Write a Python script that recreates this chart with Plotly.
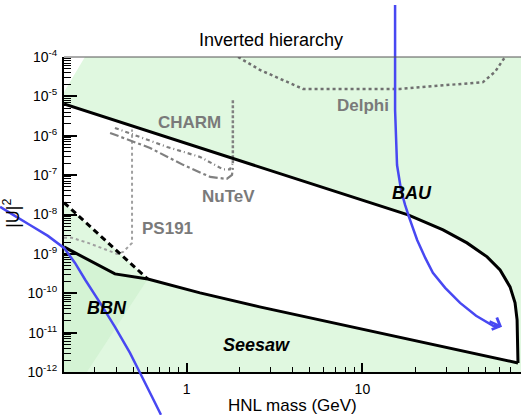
import numpy as np
import plotly.graph_objects as go

# ---------------- data (HNL mass in GeV, |U|^2) ----------------
bau_mass = [0.2, 1.0, 10.0, 18.2, 28.8, 39.4, 51.3, 60.8, 69.3, 74.0, 76.0, 76.9]
bau_u2 = [6.4e-6, 6.3e-7, 2.3e-8, 9.8e-9, 4.06e-9, 1.9e-9, 8.4e-10, 3.9e-10, 1.45e-10, 5.7e-11, 2.1e-11, 1.7e-12]

seesaw_mass = [0.2, 0.39, 0.6, 1.19, 2.6, 9.7, 76.9]
seesaw_u2 = [1.5e-9, 3.1e-10, 2.3e-10, 1.02e-10, 4.5e-11, 1.25e-11, 1.7e-12]

bbn_dash_mass = [0.2, 0.6]
bbn_dash_u2 = [2.0e-8, 2.3e-10]

bbn_dark_mass = [0.2, 0.27, 0.6, 0.39, 0.2]
bbn_dark_u2 = [1e-12, 1e-12, 2.3e-10, 3.1e-10, 1.5e-9]

wedge_mass = [0.2, 0.263, 0.2]
wedge_u2 = [1e-4, 1e-4, 1.3e-5]

ps191_mass = [0.2, 0.222, 0.274, 0.342, 0.401, 0.434, 0.488, 0.488]
ps191_u2 = [2.55e-9, 2.55e-9, 1.9e-9, 1.34e-9, 1.0e-9, 1.12e-9, 1.9e-9, 1.45e-6]

charm_mass = [0.39, 0.773, 1.19, 1.61, 1.76, 1.83]
charm_u2 = [1.58e-6, 5.2e-7, 2.9e-7, 1.4e-7, 1.4e-7, 2.0e-7]
charm_vert_mass = [1.83, 1.83]
charm_vert_u2 = [2.0e-7, 8.1e-6]

nutev_mass = [0.366, 0.618, 0.953, 1.36, 1.69, 1.81, 1.83]
nutev_u2 = [1.18e-6, 4.9e-7, 1.82e-7, 9.0e-8, 8.0e-8, 1.01e-7, 1.52e-7]

delphi_mass = [1.96, 2.61, 4.59, 16.4, 48.6, 56.9, 64.9]
delphi_u2 = [1e-4, 4.7e-5, 1.55e-5, 1.55e-5, 2.3e-5, 4.2e-5, 1e-4]

blue_left_mass = [0.0865, 0.105, 0.128, 0.162, 0.2, 0.231, 0.264, 0.321, 0.39, 0.475, 0.556, 0.634, 0.713]
blue_left_u2 = [1.56e-8, 9.2e-9, 5.4e-9, 2.86e-9, 1.42e-9, 5.9e-10, 2.2e-10, 5.7e-11, 1.4e-11, 3.07e-12, 7.6e-13, 2.35e-13, 8.2e-14]

blue_right_mass = [15.35, 15.35, 15.35, 15.75, 16.6, 17.5, 18.5, 20.5, 22.8, 25.2, 29.6, 36.0, 44.4, 55.5, 60.5]
blue_right_u2 = [2.1e-3, 1e-4, 4.5e-6, 1.8e-7, 4.2e-8, 1.75e-8, 8.2e-9, 2.26e-9, 7.9e-10, 3.3e-10, 1.37e-10, 5.7e-11, 2.67e-11, 1.49e-11, 1.42e-11]
arrow_tip = (62.4, 1.4e-11)

labels = [
    ("CHARM", 1.04, 2.2e-6, "gray"),
    ("NuTeV", 1.72, 2.8e-8, "gray"),
    ("PS191", 0.773, 4.3e-9, "gray"),
    ("Delphi", 10.1, 5.7e-6, "gray"),
    ("BAU", 19.2, 3.5e-8, "black"),
    ("BBN", 0.352, 4.3e-11, "black"),
    ("Seesaw", 2.48, 4.9e-12, "black"),
]

x_tickvals = [1, 10]
x_ticktext = ["1", "10"]
y_exponents = [-12, -11, -10, -9, -8, -7, -6, -5, -4]

XRANGE = [np.log10(0.2), np.log10(80)]
YRANGE = [-12, -4]

GREEN = "#e0f8e0"
GREEN_DARK = "#d4f3d4"
GRAY = "#7a7a7a"
BLUE = "#4848f2"
FONT = "Liberation Sans, Arial, sans-serif"

fig = go.Figure()


def add_fill(xs, ys, color):
    fig.add_trace(go.Scatter(x=xs, y=ys, mode="lines", fill="toself", fillcolor=color,
                             line=dict(width=0, color=color), hoverinfo="skip", showlegend=False))


def add_line(xs, ys, color, width, dash="solid"):
    fig.add_trace(go.Scatter(x=xs, y=ys, mode="lines", line=dict(color=color, width=width, dash=dash),
                             hoverinfo="skip", showlegend=False))


# allowed (white) region
allowed_x = bau_mass + seesaw_mass[::-1][1:5] + [bbn_dash_mass[0]]
allowed_y = bau_u2 + seesaw_u2[::-1][1:5] + [bbn_dash_u2[0]]
add_fill(allowed_x, allowed_y, "white")
add_fill(wedge_mass, wedge_u2, "white")
add_fill(bbn_dark_mass, bbn_dark_u2, GREEN_DARK)

# experimental contours
add_line(delphi_mass, delphi_u2, "#707070", 2.5, "dot")
add_line(ps191_mass, ps191_u2, "#a0a0a0", 2, "dot")
add_line(charm_mass, charm_u2, "#808080", 2.2, "4px,3px,1px,3px")
add_line(nutev_mass, nutev_u2, "#808080", 2.2, "dashdot")
add_line(charm_vert_mass, charm_vert_u2, "#808080", 2.5, "3px,2px")

# theory lines
add_line(bbn_dash_mass, bbn_dash_u2, "black", 3, "6px,4px")
add_line(seesaw_mass, seesaw_u2, "black", 3)
add_line(bau_mass, bau_u2, "black", 3)


def to_paper(m, u):
    px = (np.log10(m) - XRANGE[0]) / (XRANGE[1] - XRANGE[0])
    py = (np.log10(u) - YRANGE[0]) / (YRANGE[1] - YRANGE[0])
    return px, py


def blue_path(ms, us):
    pts = [to_paper(m, u) for m, u in zip(ms, us)]
    return "M " + " L ".join(f"{x:.5f},{y:.5f}" for x, y in pts)


shapes = [
    dict(type="path", xref="paper", yref="paper", path=blue_path(blue_left_mass, blue_left_u2),
         line=dict(color=BLUE, width=2.5), layer="above"),
    dict(type="path", xref="paper", yref="paper", path=blue_path(blue_right_mass, blue_right_u2),
         line=dict(color=BLUE, width=2.5), layer="above"),
    dict(type="line", xref="paper", yref="paper", x0=0, x1=1, y0=1, y1=1,
         line=dict(color="#555555", width=1)),
]

annotations = []
for text, m, u, col in labels:
    if col == "gray":
        t = f"<b>{text}</b>"
        c = GRAY
        size = 17
    else:
        t = f"<b><i>{text}</i></b>"
        c = "black"
        size = 18
    annotations.append(dict(x=np.log10(m), y=np.log10(u), xref="x", yref="y", text=t, showarrow=False,
                            xanchor="center", yanchor="middle",
                            font=dict(family=FONT, size=size, color=c)))

annotations.append(dict(x=np.log10(arrow_tip[0]), y=np.log10(arrow_tip[1]), xref="x", yref="y", text="",
                        showarrow=True, arrowhead=4, arrowsize=1.0, arrowwidth=2.5, arrowcolor=BLUE,
                        ax=-14, ay=-6))
annotations.append(dict(x=0.453, y=1.054, xref="paper", yref="paper", text="Inverted hierarchy",
                        xanchor="center", yanchor="middle",
                        showarrow=False, font=dict(family=FONT, size=18, color="black")))
annotations.append(dict(x=0.50, y=-0.107, xref="paper", yref="paper", text="HNL mass (GeV)",
                        xanchor="center", yanchor="middle",
                        showarrow=False, font=dict(family=FONT, size=17, color="black")))
annotations.append(dict(x=-0.114, y=0.505, xref="paper", yref="paper", text="|U|<sup>2</sup>",
                        xanchor="center", yanchor="middle",
                        textangle=-90, showarrow=False, font=dict(family=FONT, size=18, color="black")))

x_minor = [d * 10.0 ** e for e in (-1, 0, 1) for d in range(2, 10) if 0.2 <= d * 10.0 ** e <= 80]
y_minor = [d * 10.0 ** e for e in range(-12, -4) for d in range(2, 10)]

fig.update_layout(
    width=523, height=415,
    margin=dict(l=64, r=2, t=57, b=43),
    paper_bgcolor="white", plot_bgcolor=GREEN,
    showlegend=False,
    font=dict(family=FONT, color="black"),
    shapes=shapes,
    annotations=annotations,
    xaxis=dict(type="log", range=XRANGE, showgrid=False, zeroline=False,
               showline=True, linecolor="black", linewidth=2,
               ticks="inside", ticklen=9, tickwidth=1.5, tickcolor="black",
               tickmode="array", tickvals=x_tickvals, ticktext=x_ticktext,
               tickfont=dict(family=FONT, size=14, color="black"), ticklabelstandoff=3,
               minor=dict(ticks="inside", ticklen=5, tickwidth=1.2, tickcolor="black",
                          tickmode="array", tickvals=x_minor, showgrid=False)),
    yaxis=dict(type="log", range=YRANGE, showgrid=False, zeroline=False,
               showline=True, linecolor="black", linewidth=2,
               ticks="inside", ticklen=13, tickwidth=1.5, tickcolor="black",
               tickmode="array", tickvals=[10.0 ** e for e in y_exponents],
               ticktext=[f"10<sup>{e}</sup>" for e in y_exponents],
               tickfont=dict(family=FONT, size=14, color="black"), ticklabelstandoff=2,
               minor=dict(ticks="inside", ticklen=7, tickwidth=1.2, tickcolor="black",
                          tickmode="array", tickvals=y_minor, showgrid=False)),
)

fig.write_html("out.html")
